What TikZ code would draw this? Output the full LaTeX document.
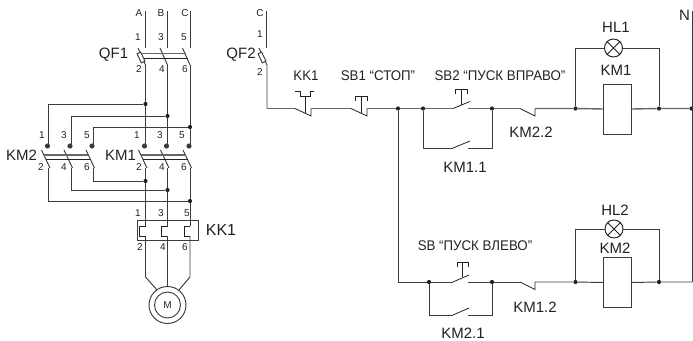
\documentclass[tikz,border=0pt]{standalone}
\usepackage{fontspec}
\setmainfont{Liberation Sans}
\newfontfamily\condf[FakeStretch=0.95]{Liberation Sans}
\definecolor{ink}{HTML}{222222}
\definecolor{wirec}{HTML}{3C3C3C}
\definecolor{bus}{HTML}{666666}
\tikzset{
  wire/.style={draw=wirec,line width=0.95pt,line join=miter},
  bus/.style={draw=bus,line width=1.4pt},
  link/.style={draw=ink,line width=0.8pt},
  junction/.style={circle,fill=ink,inner sep=0pt,minimum size=4.2pt},
  blob/.style={circle,fill=wirec,inner sep=0pt,minimum size=5.2pt},
  num/.style={font=\fontsize{10}{10}\selectfont,text=ink,inner sep=0pt},
  lab/.style={font=\fontsize{15}{15}\selectfont,text=ink,inner sep=0pt},
  mid/.style={font=\fontsize{15}{15}\selectfont,text=ink,inner sep=0pt},
  tag/.style={font=\fontsize{14}{14}\condf,text=ink,inner sep=0pt},
  coilbox/.style={draw=wirec,line width=0.95pt,fill=white,minimum width=27.5pt,inner sep=0pt},
  lamp/.style={circle,draw=ink,line width=0.95pt,fill=white,minimum size=18pt,inner sep=0pt},
}
\begin{document}
\begin{tikzpicture}[x=1pt,y=-1pt]
\useasboundingbox (0,0) rectangle (693,340);
% ---------- power circuit: phase labels and numbers
\foreach \t/\x/\y [count=\i] in {A/139/13,B/161/13,C/185/13,1/138/37,3/161/37,5/184/37,2/139/69,4/162/69,6/185/69,
   1/42/135,3/64/135,5/87/135,1/137/135,3/160/135,5/182/135,
   2/41/167,4/64/167,6/87/167,2/139/167,4/162/167,6/184/167,
   1/138/213,3/161/213,5/187/213,2/140/247,4/163/247,6/185/247,
   C/260/13,1/260/34,2/260/72}
  \node[num] (n\i) at (\x,\y) {\t};
\node[lab] (qf1) at (113.5,55) {QF1};
\node[lab] (km2p) at (21.5,155) {KM2};
\node[lab] (km1p) at (120.5,155) {KM1};
\node[lab,font=\fontsize{16}{16}\selectfont] (kk1p) at (221,230) {KK1};
\node[lab] (qf2) at (241,55) {QF2};
% QF1
\foreach \n/\x in {a/145.5,b/167.5,c/190}{
  \coordinate (\n top) at (\x,11);
  \coordinate (\n off) at (\x,48);
  \coordinate (\n on) at (\x,65);
  \coordinate (\n in) at (\x,145);
  \coordinate (\n out) at (\x,168);
  \coordinate (\n kk) at (\x,226);
  \coordinate (\n kl) at (\x,236);
  \draw[wire] (\n top) -- (\n off);
  \draw[wire] (\n on) -- (\n in);
  \draw[wire] (\x-7.5,48) -- (\n on);
  \draw[wire] (\x-7,150) -- (\x+1.5,168);
  \node[blob] (\n bl) at (\x-1,146) {};
  \draw[wire] (\n out) -- (\n kk);
}
\draw[bus] (140,53.5) -- (186,53.5);
\draw[link] (142,58) -- (188,58);
\draw[wire,fill=white,rotate around={25:(141,57.5)}] (139,52.5) rectangle (143,62.5);
% KM1 bars
\draw[bus] (141,155) -- (186,155);
\draw[link] (143,159.5) -- (188,159.5);
% KM2
\foreach \n/\x in {p/48.5,q/71,r/93}{
  \coordinate (\n in) at (\x,145);
  \coordinate (\n out) at (\x,168);
  \draw[wire] (\x-7,150) -- (\x+1.5,168);
  \node[blob] (\n bl) at (\x-1,146) {};
}
\draw[bus] (44,155) -- (88,155);
\draw[link] (46,159.5) -- (90,159.5);
% cross connections
\node[junction] (j1) at (145.5,104) {};
\node[junction] (j2) at (167.5,116) {};
\node[junction] (j3) at (190,127) {};
\node[junction] (j4) at (145.5,181) {};
\node[junction] (j5) at (167.5,190) {};
\node[junction] (j6) at (190,201) {};
\draw[wire] (j1) -| (pin);
\draw[wire] (j2) -| (qin);
\draw[wire] (j3) -| (rin);
\draw[wire] (j4) -| (rout);
\draw[wire] (j5) -| (qout);
\draw[wire] (j6) -| (pout);
% KK1 thermal relay
\node[draw=wirec,line width=0.95pt,minimum width=60.5pt,minimum height=19.5pt,inner sep=0pt] (kkbox) at (168,230.5) {};
\foreach \n/\x in {a/145.5,b/167.5,c/190}{
  \draw[link] (\n kk) -- (\x-6,226) -- (\x-6,236) -- (\n kl);
}
% motor
\node[circle,draw=wirec,line width=0.95pt,minimum size=37pt,inner sep=0pt] (mo) at (167.5,305) {};
\node[circle,draw=wirec,line width=0.95pt,minimum size=26pt,inner sep=0pt,font=\fontsize{10}{10}\selectfont,text=ink] (mi) at (167.5,305) {M};
\coordinate (abend) at (145.5,277);
\coordinate (cbend) at (190,277);
\coordinate (aend) at (157,290);
\coordinate (cend) at (179,290);
\draw[wire] (akl) -- (abend) -- (aend);
\draw[wire] (ckl) -- (cbend) -- (cend);
\draw[wire] (bkl) -- (mo.north);
% ---------- control circuit
\coordinate (ctop) at (266.5,11);
\coordinate (coff) at (266.5,48);
\coordinate (con) at (267,65);
\coordinate (ccorner) at (267,108.5);
\draw[wire] (ctop) -- (coff);
\draw[wire] (259,48) -- (con) -- (ccorner);
\draw[wire,fill=white,rotate around={25:(262,57.5)}] (260,52.5) rectangle (264,62.5);
\node[junction] (d1) at (398,108.5) {};
\node[junction] (d2) at (423,108.5) {};
\node[junction] (d3) at (492,108.5) {};
\node[junction] (d4) at (575.5,108.5) {};
\node[junction] (d5) at (659,108.5) {};
\node[junction] (d6) at (691.5,108.5) {};
\node[junction] (e1) at (429,282) {};
\node[junction] (e2) at (492,282) {};
\node[junction] (e3) at (575.5,282) {};
\node[junction] (e4) at (659,282) {};
\coordinate (ntop) at (692,11);
\coordinate (nbot) at (692,282);
\draw[wire] (ntop) -- (nbot);
% KK1 NC contact
\coordinate (k1a) at (295,108.5);
\coordinate (k1b) at (311,116);
\coordinate (k1c) at (311,108.5);
\coordinate (s1a) at (351,108.5);
\coordinate (s1b) at (367,116);
\coordinate (s1c) at (367,108.5);
\coordinate (s2a) at (453,108.5);
\coordinate (s2b) at (470,101.5);
\coordinate (s2c) at (468,108.5);
\draw[bus] (ccorner) -- (k1a);
\draw[link] (k1a) -- (k1b) -- (k1c);
\draw[bus] (k1c) -- (s1a);
\draw[link] (s1a) -- (s1b) -- (s1c);
\draw[bus] (s1c) -- (d1) -- (d2) -- (s2a);
\draw[link] (s2a) -- (s2b);
\draw[bus] (s2c) -- (d3);
% thermal actuator
\draw[link] (295,91) -- (300,91) -- (300,96.5) -- (310,96.5) -- (310,91) -- (314,91);
\draw[link] (305,96.5) -- (305,113);
% SB1 button
\draw[link] (355.5,101) -- (355.5,96.5) -- (367,96.5) -- (367,101);
\draw[link] (361.5,96.5) -- (361.5,113);
% SB2 button
\draw[link] (455.5,94) -- (455.5,89.5) -- (467,89.5) -- (467,94);
\draw[link] (461.5,89.5) -- (461.5,104.5);
% KM1.1
\coordinate (m1a) at (453,148);
\coordinate (m1b) at (470,141);
\coordinate (m1c) at (468,148);
\coordinate (m1d) at (492,148);
\draw[wire] (d2) |- (m1a);
\draw[link] (m1a) -- (m1b);
\draw[wire] (m1c) -- (m1d) -- (d3);
% KM2.2
\coordinate (t1a) at (520,108.5);
\coordinate (t1b) at (535,116);
\coordinate (t1c) at (535,108.5);
\draw[bus] (d3) -- (t1a);
\draw[link] (t1a) -- (t1b) -- (t1c);
\node[coilbox,minimum height=50pt] (coil1) at (617.5,109) {};
\draw[bus] (t1c) -- (d4) -- (coil1.west);
\draw[bus] (coil1.east) -- (d5) -- (d6);
\node[lamp] (hl1) at (613.5,48) {};
\draw[link] (hl1.north west) -- (hl1.south east);
\draw[link] (hl1.north east) -- (hl1.south west);
\draw[wire] (d4) |- (hl1.west);
\draw[wire] (d5) |- (hl1.east);
% lower branch
\coordinate (s3a) at (453,282);
\coordinate (s3b) at (469,275);
\coordinate (s3c) at (468,282);
\draw[wire] (d1) |- (e1);
\draw[wire] (e1) -- (s3a);
\draw[link] (s3a) -- (s3b);
\draw[wire] (s3c) -- (e2);
\coordinate (m2a) at (453,315);
\coordinate (m2b) at (469,308);
\coordinate (m2c) at (468,315);
\coordinate (m2d) at (492,315);
\draw[wire] (e1) |- (m2a);
\draw[link] (m2a) -- (m2b);
\draw[wire] (m2c) -- (m2d) -- (e2);
\draw[link] (457,267) -- (457,262.5) -- (468,262.5) -- (468,267);
\draw[link] (462.5,262.5) -- (462.5,277);
\coordinate (t2a) at (520,282);
\coordinate (t2b) at (535,289.5);
\coordinate (t2c) at (535,282);
\draw[wire] (e2) -- (t2a);
\draw[link] (t2a) -- (t2b) -- (t2c);
\node[coilbox,minimum height=50pt] (coil2) at (617.5,282.5) {};
\draw[wire] (t2c) -- (e3) -- (coil2.west);
\draw[wire] (coil2.east) -- (e4) -- (nbot);
\node[lamp] (hl2) at (614,229) {};
\draw[link] (hl2.north west) -- (hl2.south east);
\draw[link] (hl2.north east) -- (hl2.south west);
\draw[wire] (e3) |- (hl2.west);
\draw[wire] (e4) |- (hl2.east);
% control labels
\node[tag] (tk) at (306,76) {KK1};
\node[tag] (ts1) at (378,76) {SB1 “СТОП”};
\node[tag] (ts2) at (500,76) {SB2 “ПУСК ВПРАВО”};
\node[mid] (th1) at (616,27) {HL1};
\node[mid] (tm1) at (616,70) {KM1};
\node[mid] (tm22) at (531,132) {KM2.2};
\node[mid] (tm11) at (465,167) {KM1.1};
\node[mid] (tn) at (684.5,15) {N};
\node[mid] (th2) at (615,210) {HL2};
\node[mid] (tm2) at (615,248) {KM2};
\node[tag] (ts3) at (475,246) {SB “ПУСК ВЛЕВО”};
\node[mid] (tm12) at (535,307) {KM1.2};
\node[mid] (tm21) at (463,333) {KM2.1};
\end{tikzpicture}
\end{document}
